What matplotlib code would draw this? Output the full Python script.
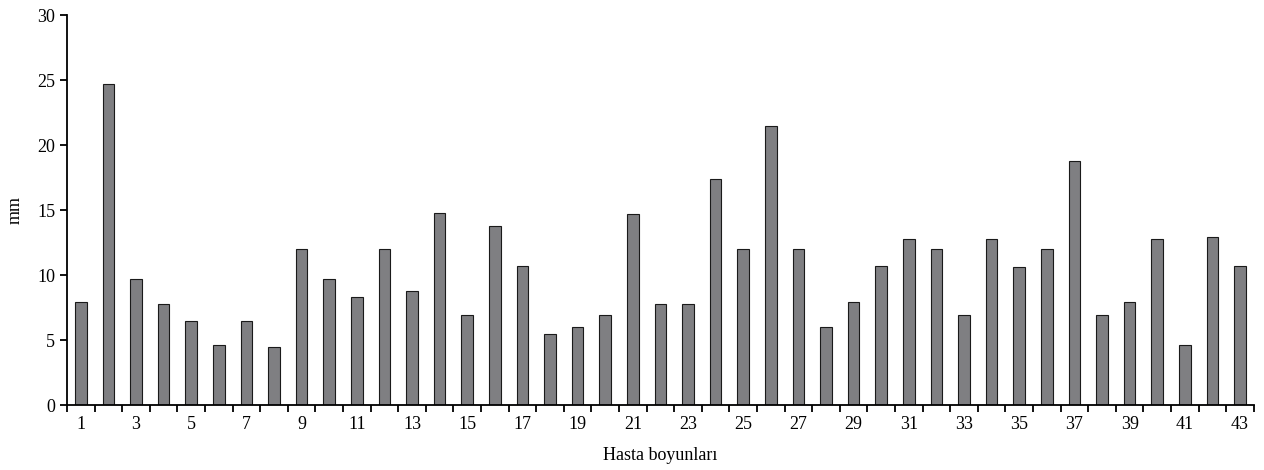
import numpy as np
import matplotlib.pyplot as plt

# bar values (mm) per patient neck
patients = list(range(1, 44))
values = [7.9, 24.7, 9.7, 7.8, 6.5, 4.6, 6.5, 4.5, 12.0, 9.7,
          8.3, 12.0, 8.8, 14.8, 6.9, 13.8, 10.7, 5.5, 6.0, 6.9,
          14.7, 7.8, 7.8, 17.4, 12.0, 21.5, 12.0, 6.0, 7.9, 10.7,
          12.8, 12.0, 6.9, 12.8, 10.6, 12.0, 18.8, 6.9, 7.9, 12.8,
          4.6, 12.9, 10.7]
yticks = [0, 5, 10, 15, 20, 25, 30]

plt.rcParams['font.family'] = ['Liberation Serif', 'DejaVu Serif']

fig = plt.figure(figsize=(12.64, 4.70), dpi=100)
ax = fig.add_axes([0.053, 0.138, 0.939, 0.830])

ax.bar(patients, values, width=0.42, color='#7f7f82', edgecolor='#1a1a1a', linewidth=0.8)

ax.set_xlim(0.5, 43.5)
ax.set_ylim(0, 30)
ax.set_yticks(yticks)

# major ticks at bar boundaries, labels at odd bars
ax.set_xticks(np.arange(0.5, 44, 1))
ax.set_xticklabels([])
ax.set_xticks(patients[::2], minor=True)
ax.set_xticklabels([str(p) for p in patients[::2]], minor=True)
ax.tick_params(axis='x', which='minor', length=0, pad=8, labelsize=13)
ax.tick_params(axis='x', which='major', direction='out', length=5, width=1.3)
ax.tick_params(axis='y', direction='out', length=5, width=1.3, labelsize=13)

for s in ['top', 'right']:
    ax.spines[s].set_visible(False)
for s in ['left', 'bottom']:
    ax.spines[s].set_linewidth(1.3)

ax.set_xlabel('Hasta boyunları', fontsize=13, labelpad=10)
ax.set_ylabel('mm', fontsize=13, labelpad=10)

fig.savefig('out.png', dpi=100)
